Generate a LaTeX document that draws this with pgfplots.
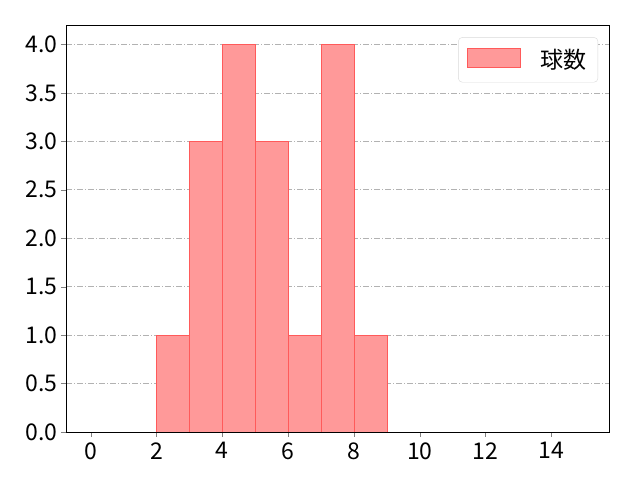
\documentclass[border=0pt]{standalone}
\usepackage{pgfplots}
\pgfplotsset{compat=1.18}
\usepackage{fontspec}
\setmainfont{Noto Sans CJK JP}
\definecolor{barfill}{RGB}{255,153,153}
\definecolor{baredge}{RGB}{255,90,90}

\begin{document}
\begin{tikzpicture}[x=1pt,y=1pt]
\begin{axis}[
    scale only axis,
    width=543pt, height=407pt,
    xmin=-0.75, xmax=15.75,
    ymin=0, ymax=4.2,
    xtick={0,2,...,14},
    ytick={0,0.5,...,4.0},
    yticklabel style={/pgf/number format/.cd, fixed, fixed zerofill, precision=1},
    /pgf/number format/assume math mode=true,
    tick label style={font=\fontsize{23}{24}\selectfont},
    xticklabel style={yshift=-2pt},
    tick align=outside,
    major tick length=5pt,
    xtick pos=bottom, ytick pos=left,
    ymajorgrids,
    grid style={gray!60, dash pattern=on 6pt off 2pt on 1pt off 2pt, line width=0.6pt},
    axis line style={line width=0.9pt},
    legend style={at={(0.98,0.97)}, anchor=north east, draw=gray!30, rounded corners=4pt,
        font=\fontsize{23}{24}\selectfont, inner xsep=9pt, inner ysep=10pt},
    legend image code/.code={\draw[sharp corners, fill=barfill, draw=baredge] (0pt,-7pt) rectangle (53pt,12pt);},
    legend cell align=left,
]
\addplot[ybar interval, fill=barfill, draw=baredge, line width=0.6pt]
    coordinates {(2,1) (3,3) (4,4) (5,3) (6,1) (7,4) (8,1) (9,1)};
\addlegendentry{\hspace{18pt}球数}
\end{axis}
\path (current axis.south west) +(-66pt,-48pt) coordinate (a);
\path (current axis.north east) +(31pt,25pt) coordinate (b);
\pgfresetboundingbox
\path (a) rectangle (b);
\end{tikzpicture}
\end{document}
